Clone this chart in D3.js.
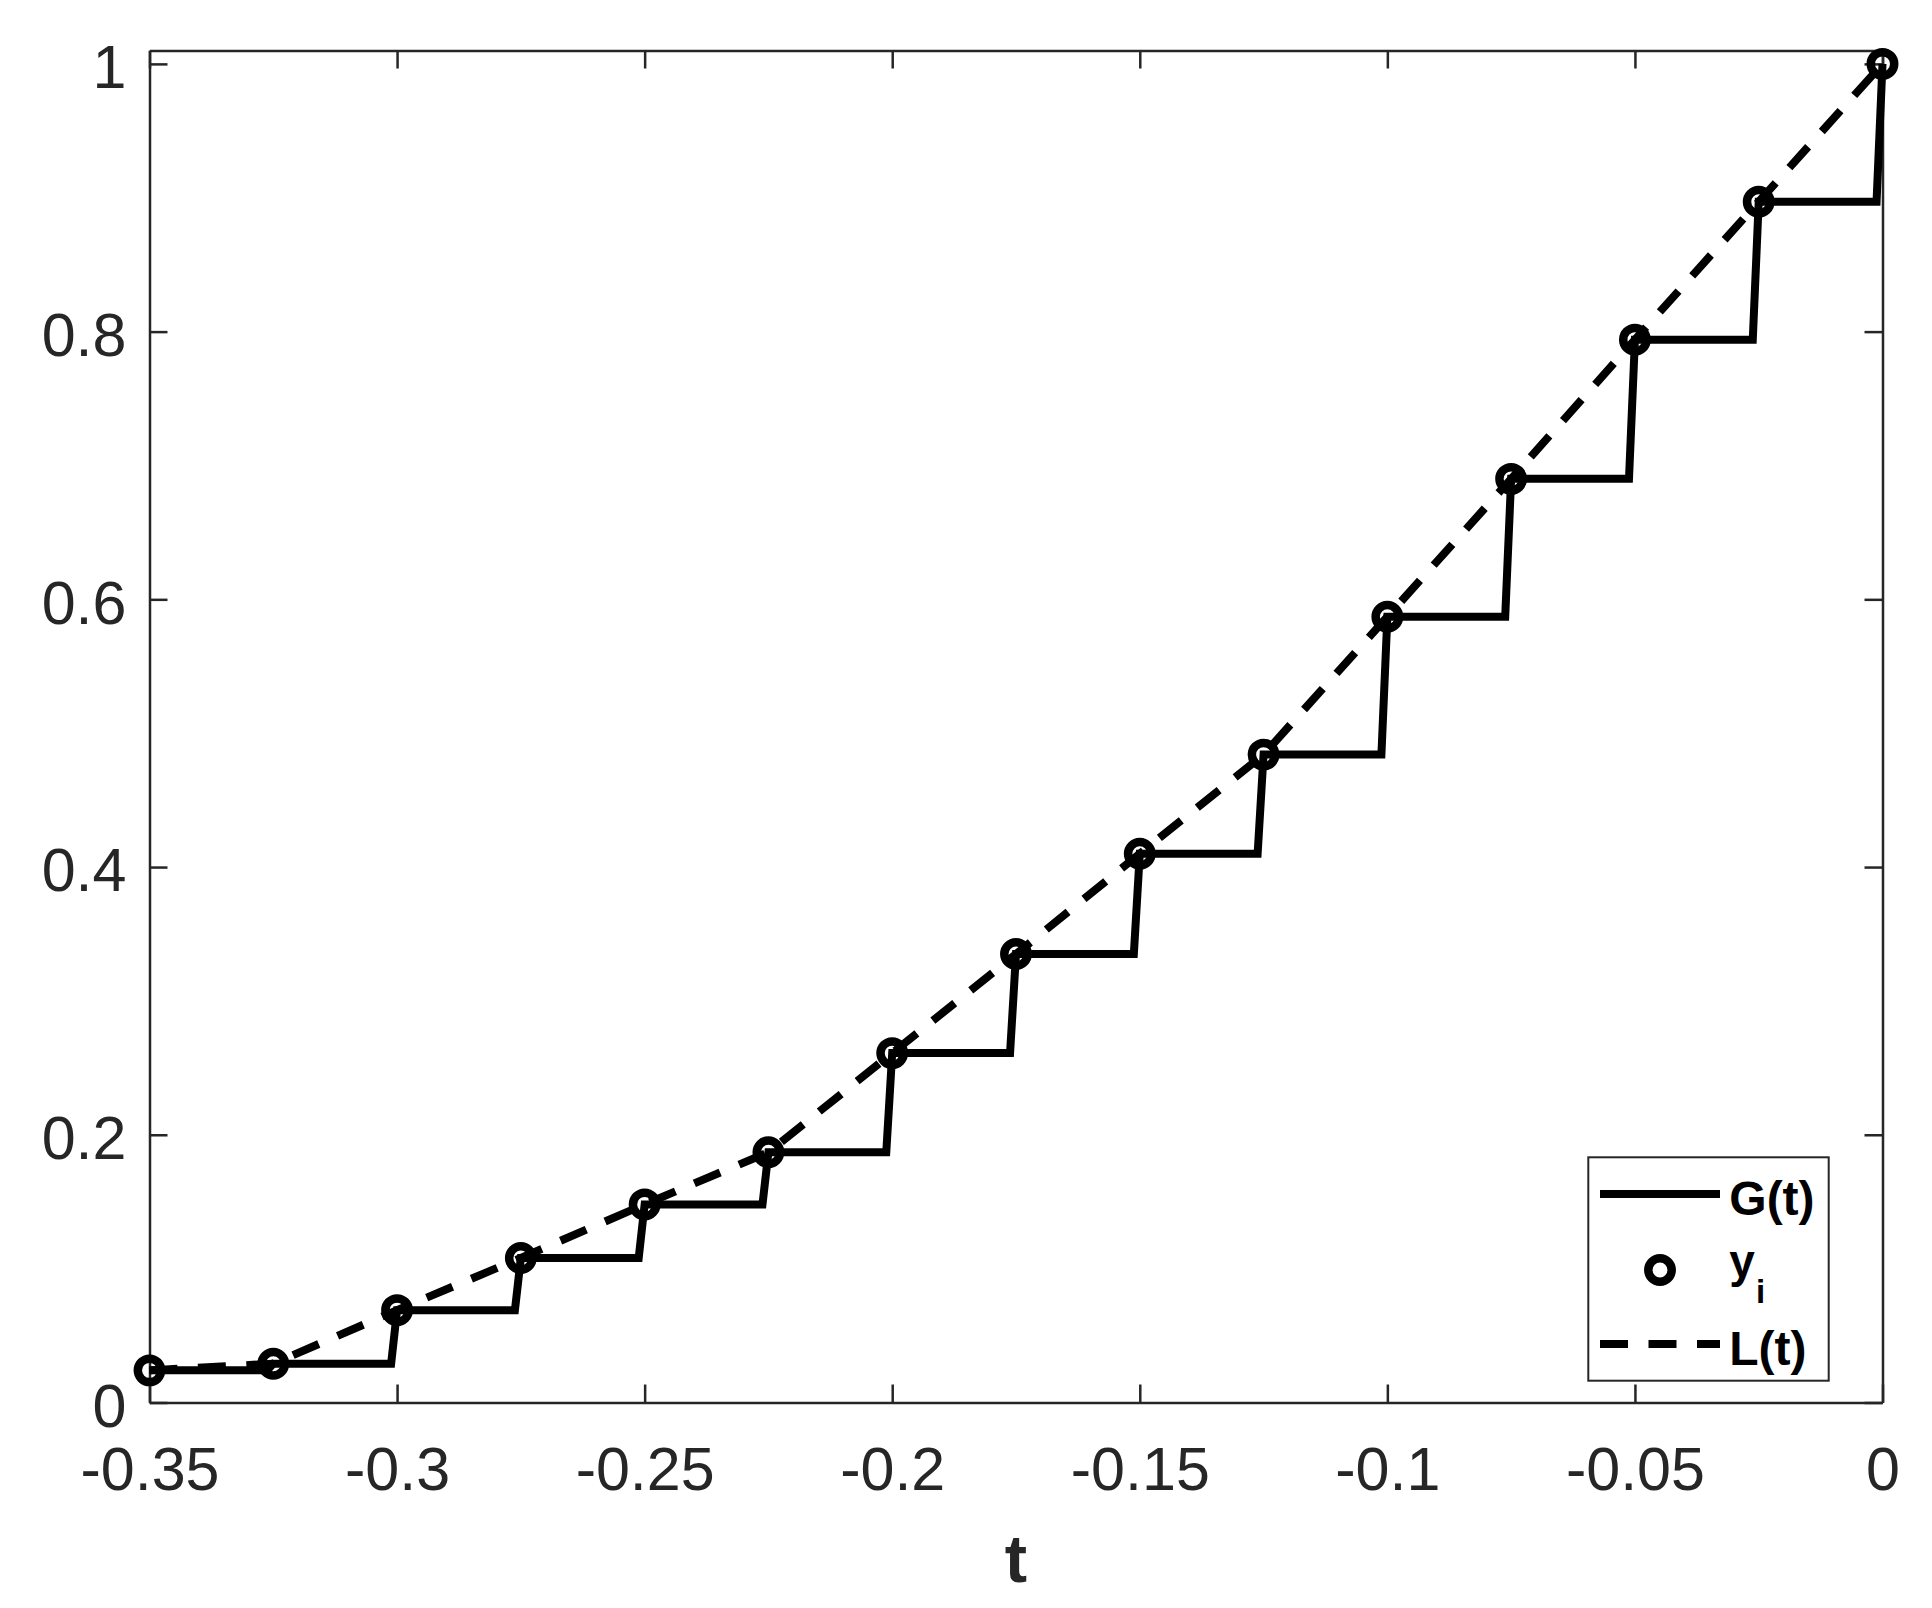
<!DOCTYPE html>
<html>
<head>
<meta charset="utf-8">
<script src="https://cdn.jsdelivr.net/npm/d3@7"></script>
<style>
	body { margin: 0; background: #fff; }
	svg { display: block; font-family: "Liberation Sans", Arial, Helvetica, sans-serif; }
</style>
</head>
<body>
<svg id="chart" width="1932" height="1608"></svg>
<script>
// sample points t_i and observed values y_i
var tValues = [-0.35, -0.325, -0.3, -0.275, -0.25, -0.225, -0.2, -0.175, -0.15, -0.125, -0.1, -0.075, -0.05, -0.025, 0];
var yValues = [0.024, 0.029, 0.069, 0.108, 0.148, 0.187, 0.261, 0.335, 0.410, 0.484, 0.587, 0.690, 0.794, 0.897, 1.0];

var stepLag = 0.0012; // G(t) holds y_i until just before t_{i+1}

var xTicks = [-0.35, -0.3, -0.25, -0.2, -0.15, -0.1, -0.05, 0];
var xTickLabels = ['-0.35', '-0.3', '-0.25', '-0.2', '-0.15', '-0.1', '-0.05', '0'];
var yTicks = [0, 0.2, 0.4, 0.6, 0.8, 1];
var yTickLabels = ['0', '0.2', '0.4', '0.6', '0.8', '1'];

var xDomain = [-0.35, 0];
var yDomain = [0, 1.01];

var seriesNames = ['G(t)', 'y', 'L(t)'];

var AXIS_COLOR = '#262626';

var box = { left: 149.5, top: 50.5, width: 1733, height: 1352 };

var svg = d3.select('#chart');
var rootG = svg.append('g')
	.attr('transform', 'translate(' + box.left + ',' + box.top + ')');

var x = d3.scaleLinear().domain(xDomain).range([0, box.width]);
var y = d3.scaleLinear().domain(yDomain).range([box.height, 0]);

function labelFor(ticks, labels) {
	return function(d) { return labels[ticks.indexOf(d)]; };
}

function styleAxis(g) {
	g.selectAll('.domain').attr('stroke', AXIS_COLOR).attr('stroke-width', 2.5);
	g.selectAll('.tick line').attr('stroke', AXIS_COLOR).attr('stroke-width', 2.5);
	g.selectAll('.tick text').attr('fill', AXIS_COLOR).style('font-size', '61px');
}

// box with inward ticks on all four sides
var bottomG = rootG.append('g')
	.attr('transform', 'translate(0,' + box.height + ')')
	.call(d3.axisBottom(x).tickValues(xTicks).tickFormat(labelFor(xTicks, xTickLabels))
		.tickSizeInner(-18).tickSizeOuter(0).tickPadding(44));
styleAxis(bottomG);

var leftG = rootG.append('g')
	.call(d3.axisLeft(y).tickValues(yTicks).tickFormat(labelFor(yTicks, yTickLabels))
		.tickSizeInner(-18).tickSizeOuter(0).tickPadding(23));
styleAxis(leftG);
leftG.selectAll('.tick text').attr('dy', '0.39em');

var topG = rootG.append('g')
	.call(d3.axisTop(x).tickValues(xTicks).tickFormat('').tickSizeInner(-18).tickSizeOuter(0));
styleAxis(topG);

var rightG = rootG.append('g')
	.attr('transform', 'translate(' + box.width + ',0)')
	.call(d3.axisRight(y).tickValues(yTicks).tickFormat('').tickSizeInner(-18).tickSizeOuter(0));
styleAxis(rightG);

// x axis title
rootG.append('text')
	.attr('x', box.width / 2)
	.attr('y', 1582 - box.top)
	.attr('text-anchor', 'middle')
	.attr('fill', AXIS_COLOR)
	.style('font-size', '67px')
	.style('font-weight', 'bold')
	.text('t');

// G(t): staircase built from the samples
var stairPts = [];
for (var i = 0; i < tValues.length; i++) {
	stairPts.push([tValues[i], yValues[i]]);
	if (i < tValues.length - 1)
		stairPts.push([tValues[i + 1] - stepLag, yValues[i]]);
}

var line = d3.line()
	.x(function(d) { return x(d[0]); })
	.y(function(d) { return y(d[1]); });

var dataG = rootG.append('g');

dataG.append('path')
	.datum(stairPts)
	.attr('d', line)
	.attr('fill', 'none')
	.attr('stroke', '#000')
	.attr('stroke-width', 8)
	.attr('stroke-linejoin', 'miter');

dataG.selectAll('circle')
	.data(tValues)
	.enter().append('circle')
		.attr('cx', function(d) { return x(d); })
		.attr('cy', function(d, i) { return y(yValues[i]); })
		.attr('r', 11.7)
		.attr('fill', 'none')
		.attr('stroke', '#000')
		.attr('stroke-width', 8.5);

// L(t): dashed curve through the samples
dataG.append('path')
	.datum(tValues.map(function(t, i) { return [t, yValues[i]]; }))
	.attr('d', line)
	.attr('fill', 'none')
	.attr('stroke', '#000')
	.attr('stroke-width', 8)
	.attr('stroke-dasharray', '28,20.5');

// legend
var legendG = svg.append('g').attr('transform', 'translate(1588.3,1157.3)');

legendG.append('rect')
	.attr('width', 240.4)
	.attr('height', 223.4)
	.attr('fill', '#fff')
	.attr('stroke', AXIS_COLOR)
	.attr('stroke-width', 2);

var rowY = [36.7, 112.7, 186.7];

legendG.append('line')
	.attr('x1', 11.7).attr('x2', 131.7)
	.attr('y1', rowY[0]).attr('y2', rowY[0])
	.attr('stroke', '#000').attr('stroke-width', 8);

legendG.append('circle')
	.attr('cx', 71.7).attr('cy', rowY[1]).attr('r', 11.7)
	.attr('fill', 'none').attr('stroke', '#000').attr('stroke-width', 8.5);

legendG.append('line')
	.attr('x1', 11.7).attr('x2', 131.7)
	.attr('y1', rowY[2]).attr('y2', rowY[2])
	.attr('stroke', '#000').attr('stroke-width', 8)
	.attr('stroke-dasharray', '28,20.5');

var textX = 141;

legendG.append('text')
	.attr('x', textX).attr('y', rowY[0] + 21)
	.style('font-size', '48px').style('font-weight', 'bold')
	.text(seriesNames[0]);

var yiText = legendG.append('text')
	.attr('x', textX).attr('y', rowY[1] + 7)
	.style('font-size', '46px').style('font-weight', 'bold');
yiText.append('tspan').text(seriesNames[1]);
yiText.append('tspan')
	.attr('dy', 26)
	.attr('dx', 1)
	.style('font-size', '33px')
	.text('i');

legendG.append('text')
	.attr('x', textX).attr('y', rowY[2] + 21)
	.style('font-size', '48px').style('font-weight', 'bold')
	.text(seriesNames[2]);
</script>
</body>
</html>
